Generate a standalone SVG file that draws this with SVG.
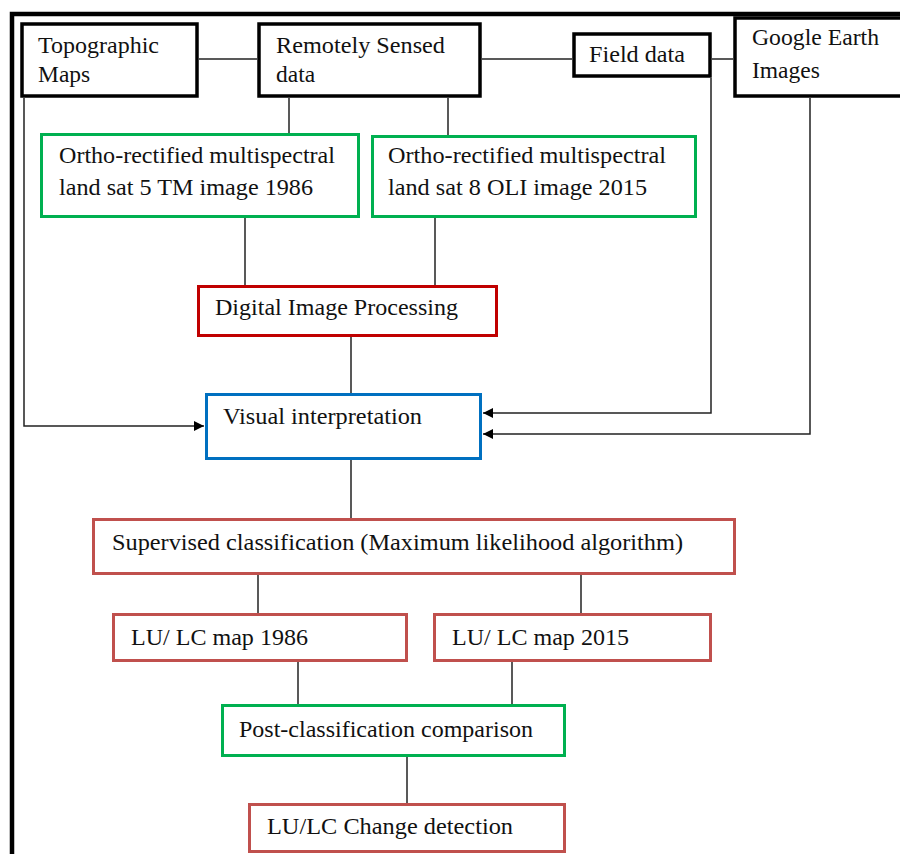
<svg xmlns="http://www.w3.org/2000/svg" width="900" height="854" viewBox="0 0 900 854">
<style>
  text { font-family: "Liberation Serif", "Times New Roman", serif; font-size: 23.5px; fill: #111; }
  .blk { fill: #fff; stroke: #000; stroke-width: 3.5; }
  .grn { fill: #fff; stroke: #00b050; stroke-width: 3; }
  .red { fill: #fff; stroke: #c00000; stroke-width: 3; }
  .blu { fill: #fff; stroke: #0070c0; stroke-width: 3; }
  .rose { fill: #fff; stroke: #c0504d; stroke-width: 3; }
  .conn line, .conn path { stroke: #222; stroke-width: 1.5; fill: none; }
</style>
<defs>
  <marker id="arr" viewBox="0 0 10 10" refX="10" refY="5" markerWidth="10" markerHeight="10" markerUnits="userSpaceOnUse" orient="auto">
    <path d="M0,0 L10,5 L0,10 Z" fill="#000"/>
  </marker>
</defs>
<rect width="900" height="854" fill="#fff"/>
<path d="M12,854 V14 H900" fill="none" stroke="#000" stroke-width="4.5"/>

<g class="conn">
  <line x1="199" y1="59" x2="257" y2="59"/>
  <line x1="482" y1="59" x2="572" y2="59"/>
  <line x1="712" y1="59" x2="733" y2="59"/>
  <line x1="289" y1="98" x2="289" y2="133"/>
  <line x1="448" y1="98" x2="448" y2="135"/>
  <line x1="245" y1="218" x2="245" y2="285"/>
  <line x1="435" y1="218" x2="435" y2="285"/>
  <line x1="351" y1="337" x2="351" y2="393"/>
  <path d="M24,98 V426 H204" marker-end="url(#arr)"/>
  <path d="M711,78 V413 H483" marker-end="url(#arr)"/>
  <path d="M810,98 V434 H483" marker-end="url(#arr)"/>
  <line x1="351" y1="460" x2="351" y2="518"/>
  <line x1="258" y1="575" x2="258" y2="613"/>
  <line x1="581" y1="575" x2="581" y2="613"/>
  <line x1="298" y1="662" x2="298" y2="704"/>
  <line x1="512" y1="662" x2="512" y2="704"/>
  <line x1="407" y1="757" x2="407" y2="803"/>
</g>

<g id="topo">
  <rect class="blk" x="22" y="24" width="175" height="72"/>
  <text x="38" y="53" textLength="121" lengthAdjust="spacingAndGlyphs">Topographic</text>
  <text x="38" y="82">Maps</text>
</g>
<g id="remote">
  <rect class="blk" x="259" y="24" width="221" height="72"/>
  <text x="276" y="53" textLength="169" lengthAdjust="spacingAndGlyphs">Remotely Sensed</text>
  <text x="276" y="82">data</text>
</g>
<g id="field">
  <rect class="blk" x="574" y="34" width="136" height="42"/>
  <text x="589" y="62" textLength="96" lengthAdjust="spacingAndGlyphs">Field data</text>
</g>
<g id="google">
  <rect class="blk" x="735" y="18" width="200" height="78"/>
  <text x="752" y="45" textLength="127" lengthAdjust="spacingAndGlyphs">Google Earth</text>
  <text x="752" y="78">Images</text>
</g>
<g id="ortho1">
  <rect class="grn" x="41.5" y="134.5" width="317" height="82"/>
  <text x="59" y="163" textLength="276" lengthAdjust="spacingAndGlyphs">Ortho-rectified multispectral</text>
  <text x="59" y="195" textLength="254" lengthAdjust="spacingAndGlyphs">land sat 5 TM image 1986</text>
</g>
<g id="ortho2">
  <rect class="grn" x="372.5" y="136.5" width="323" height="80"/>
  <text x="388" y="163" textLength="278" lengthAdjust="spacingAndGlyphs">Ortho-rectified multispectral</text>
  <text x="388" y="195" textLength="259" lengthAdjust="spacingAndGlyphs">land sat 8 OLI image 2015</text>
</g>
<g id="dip">
  <rect class="red" x="198.5" y="286.5" width="298" height="49"/>
  <text x="215" y="315" textLength="243" lengthAdjust="spacingAndGlyphs">Digital Image Processing</text>
</g>
<g id="visual">
  <rect class="blu" x="206.5" y="394.5" width="274" height="64"/>
  <text x="223" y="424" textLength="199" lengthAdjust="spacingAndGlyphs">Visual interpretation</text>
</g>
<g id="supervised">
  <rect class="rose" x="93.5" y="519.5" width="641" height="54"/>
  <text x="112" y="550" textLength="571" lengthAdjust="spacingAndGlyphs">Supervised classification  (Maximum  likelihood  algorithm)</text>
</g>
<g id="lulc1986">
  <rect class="rose" x="113.5" y="614.5" width="293" height="46"/>
  <text x="131" y="645" textLength="177" lengthAdjust="spacingAndGlyphs">LU/ LC map 1986</text>
</g>
<g id="lulc2015">
  <rect class="rose" x="434.5" y="614.5" width="276" height="46"/>
  <text x="452" y="645" textLength="177" lengthAdjust="spacingAndGlyphs">LU/ LC map 2015</text>
</g>
<g id="post">
  <rect class="grn" x="222.5" y="705.5" width="342" height="50"/>
  <text x="239" y="737" textLength="294" lengthAdjust="spacingAndGlyphs">Post-classification comparison</text>
</g>
<g id="change">
  <rect class="rose" x="249.5" y="804.5" width="315" height="47"/>
  <text x="267" y="834" textLength="246" lengthAdjust="spacingAndGlyphs">LU/LC Change detection</text>
</g>
</svg>
